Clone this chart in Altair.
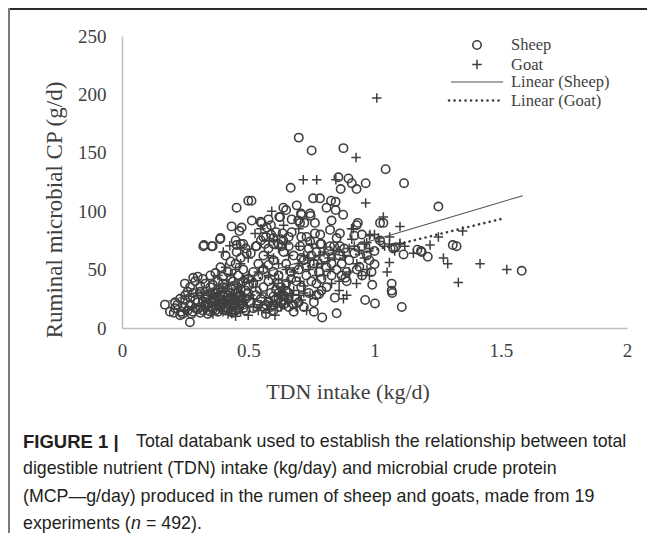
import altair as alt
import pandas as pd

# ---------------- data ----------------
sheep_pts = [
    (0.70, 163), (0.751, 152), (0.877, 154), (0.857, 129), (0.897, 128), (0.91, 124),
    (0.866, 119), (0.929, 119), (0.965, 124), (1.044, 136), (1.117, 124), (0.668, 120),
    (0.50, 109), (0.513, 109), (0.454, 103), (0.639, 103), (0.757, 111), (0.784, 111),
    (0.828, 109), (0.846, 108), (0.81, 103), (0.846, 101), (0.876, 97), (0.692, 105),
    (0.709, 98), (0.745, 98), (0.65, 101), (0.698, 92), (0.722, 90), (0.764, 90),
    (0.83, 92), (0.934, 90), (1.035, 90), (1.253, 104), (0.514, 92), (0.549, 91),
    (0.58, 93), (0.623, 95), (0.59, 88), (0.573, 86), (0.434, 87), (0.474, 86),
    (0.465, 83), (0.39, 77), (0.388, 76), (0.322, 70), (0.355, 70), (0.553, 90),
    (0.626, 95), (0.672, 93), (0.705, 90), (0.747, 96), (0.711, 97), (0.56, 78),
    (0.60, 77), (0.636, 81), (0.672, 82), (0.731, 78), (0.764, 81), (0.785, 80),
    (0.824, 84), (0.863, 81), (0.929, 88), (0.359, 70), (0.325, 71), (0.454, 71),
    (0.48, 72), (0.454, 65), (0.494, 64), (0.533, 70), (0.566, 72), (0.60, 72),
    (0.639, 75), (0.632, 70), (0.705, 70), (0.745, 74), (0.785, 72), (0.824, 70),
    (0.863, 70), (1.022, 75), (1.022, 90), (0.66, 78), (0.71, 78), (0.85, 77),
    (0.92, 79), (0.95, 80),
    (1.31, 71), (1.325, 70), (1.184, 66), (1.211, 61), (1.082, 69), (1.115, 63),
    (1.17, 67), (1.187, 65), (1.074, 68), (1.583, 49), (1.00, 54.5), (0.94, 52.5),
    (0.89, 48), (0.951, 45), (0.988, 48), (0.89, 40), (0.885, 43), (0.991, 37),
    (1.068, 38), (1.068, 32), (1.07, 30), (0.963, 24), (1.002, 21), (1.108, 18),
    (0.793, 9), (0.85, 12.6), (0.843, 26), (0.79, 32), (0.78, 29), (0.76, 22),
    (0.77, 28),
    (0.17, 20), (0.21, 17), (0.205, 13), (0.23, 11), (0.269, 5), (0.235, 14),
    (0.275, 12), (0.31, 13), (0.249, 38), (0.282, 43), (0.30, 44), (0.32, 42),
    (0.26, 31), (0.282, 30), (0.309, 31), (0.19, 14), (0.22, 20), (0.25, 24),
    (0.27, 20), (0.245, 18), (0.29, 17), (0.30, 22), (0.33, 18), (0.33, 26),
    (0.35, 30), (0.36, 22), (0.37, 15), (0.34, 12), (0.38, 20), (0.39, 28),
    (0.40, 35), (0.41, 18), (0.42, 24), (0.43, 30), (0.44, 22), (0.45, 15),
    (0.46, 27), (0.47, 33), (0.48, 20), (0.49, 25), (0.50, 30), (0.36, 37),
    (0.38, 40), (0.40, 44), (0.42, 48), (0.44, 40), (0.46, 45), (0.48, 50),
    (0.50, 42), (0.52, 48), (0.45, 55), (0.47, 60), (0.43, 57), (0.41, 62),
    (0.39, 52), (0.37, 47), (0.35, 45), (0.40, 27), (0.42, 16), (0.44, 13),
    (0.385, 24), (0.355, 18), (0.465, 19), (0.49, 15), (0.51, 22), (0.52, 17),
    (0.53, 28), (0.55, 25), (0.56, 35), (0.57, 20), (0.58, 40), (0.59, 30),
    (0.60, 15), (0.61, 25), (0.62, 45), (0.63, 35), (0.64, 20), (0.65, 55),
    (0.66, 30), (0.67, 42), (0.68, 62), (0.69, 25), (0.70, 50), (0.71, 35),
    (0.72, 58), (0.73, 45), (0.74, 68), (0.75, 40), (0.76, 55), (0.77, 65),
    (0.78, 48), (0.79, 72), (0.80, 60), (0.81, 52), (0.82, 66), (0.83, 45),
    (0.84, 70), (0.86, 62), (0.87, 55), (0.88, 68), (0.90, 58), (0.92, 64),
    (0.93, 50), (0.95, 70), (0.97, 62), (0.98, 58), (1.00, 66), (0.54, 55),
    (0.56, 62), (0.58, 68), (0.60, 58), (0.62, 72), (0.64, 65), (0.66, 70),
    (0.53, 70), (0.55, 75), (0.57, 78), (0.59, 80), (0.61, 82), (0.63, 76),
    (0.51, 64), (0.49, 68), (0.47, 72), (0.45, 75), (0.52, 38), (0.54, 44),
    (0.56, 50), (0.58, 54), (0.60, 48), (0.62, 38), (0.64, 28), (0.66, 18),
    (0.68, 14), (0.70, 22), (0.72, 18), (0.74, 30), (0.76, 14), (0.57, 12),
    (0.59, 18), (0.61, 33), (0.63, 22), (0.65, 38), (0.67, 48), (0.69, 40),
    (0.71, 60), (0.73, 52), (0.75, 62), (0.77, 38), (0.79, 42), (0.81, 35),
    (0.83, 55), (0.85, 50), (0.87, 45), (0.60, 27), (0.62, 30), (0.35, 35),
    (0.37, 30), (0.33, 38), (0.31, 36), (0.29, 40), (0.27, 35), (0.25, 28),
    (0.23, 25), (0.21, 22), (0.42, 33), (0.44, 36), (0.46, 38), (0.48, 40),
    (0.50, 36), (0.38, 33), (0.40, 38), (0.43, 42), (0.47, 28), (0.34, 27),
    (0.32, 23), (0.36, 26), (0.39, 22), (0.41, 30), (0.43, 26), (0.45, 30),
    (0.47, 24), (0.49, 32),
    (0.36, 16), (0.37, 19), (0.38, 14), (0.39, 18), (0.40, 21), (0.41, 15),
    (0.42, 20), (0.43, 14), (0.44, 18), (0.45, 24), (0.46, 16), (0.47, 21),
    (0.48, 17), (0.40, 24), (0.42, 28), (0.44, 26), (0.46, 30), (0.38, 26),
    (0.36, 30), (0.34, 22), (0.35, 14), (0.33, 20), (0.31, 18), (0.29, 24),
    (0.27, 26), (0.28, 14), (0.26, 15), (0.24, 12), (0.30, 16), (0.32, 15),
    (0.58, 22), (0.60, 20), (0.62, 25), (0.64, 24), (0.66, 26), (0.68, 20),
    (0.62, 18), (0.56, 18), (0.54, 20), (0.65, 32), (0.63, 28),
]

goat_pts = [
    (1.009, 197), (0.927, 146), (0.718, 127), (0.771, 127), (0.847, 127), (0.965, 107),
    (1.035, 95), (1.101, 87), (0.909, 85), (0.982, 80), (1.015, 77), (1.059, 72),
    (1.101, 72.5), (1.22, 71), (1.253, 78), (1.349, 83), (1.154, 64), (1.273, 60),
    (1.29, 55), (1.059, 56), (1.418, 55), (1.524, 50), (1.332, 39), (0.731, 15),
    (0.877, 25), (0.929, 38), (0.949, 45), (0.98, 45), (0.86, 40), (0.824, 50),
    (0.77, 45), (0.745, 28), (0.72, 30), (0.705, 40), (0.593, 100), (0.527, 81),
    (0.401, 65), (0.427, 70.5), (0.91, 76), (0.969, 73), (0.98, 79), (0.916, 85),
    (0.434, 12.5), (0.47, 14), (0.50, 11), (0.54, 15), (0.57, 13), (0.606, 11),
    (0.45, 10), (0.52, 18), (0.48, 20),
    (0.60, 60), (0.62, 55), (0.65, 50), (0.68, 48), (0.70, 55), (0.72, 62),
    (0.74, 60), (0.76, 58), (0.78, 62), (0.80, 65), (0.82, 60), (0.84, 63),
    (0.86, 66), (0.88, 62), (0.90, 68), (0.92, 70), (0.94, 66), (0.96, 72),
    (0.98, 68), (1.00, 80), (1.02, 74), (1.04, 70), (1.06, 78), (1.08, 66),
    (1.10, 72), (1.12, 70), (0.30, 30), (0.32, 28), (0.35, 25), (0.38, 30),
    (0.40, 34), (0.42, 38), (0.44, 28), (0.46, 35), (0.48, 42), (0.50, 45),
    (0.52, 40), (0.54, 48), (0.56, 52), (0.58, 45), (0.60, 38), (0.62, 42),
    (0.64, 35), (0.66, 40), (0.68, 32), (0.70, 28), (0.72, 36), (0.55, 30),
    (0.57, 26), (0.59, 22), (0.61, 20), (0.63, 18), (0.65, 24), (0.67, 28),
    (0.69, 18), (0.71, 24), (0.53, 35), (0.51, 28), (0.49, 24), (0.47, 30),
    (0.45, 20), (0.43, 18), (0.41, 22), (0.39, 16), (0.37, 20), (0.25, 15),
    (0.28, 18), (0.33, 15), (0.36, 12), (0.60, 75), (0.65, 72), (0.70, 70),
    (0.66, 62), (0.62, 68), (0.58, 62), (0.74, 50), (0.77, 52), (0.80, 45),
    (0.83, 38), (0.86, 32), (0.89, 28), (0.79, 55), (0.75, 72), (0.90, 48),
    (0.93, 55), (0.96, 60), (1.05, 48), (0.97, 50), (0.70, 85), (0.64, 88),
    (0.55, 85), (0.50, 60), (0.47, 55), (0.45, 50), (0.43, 46), (0.38, 45),
    (0.41, 52),
    (0.34, 18), (0.38, 24), (0.42, 12), (0.44, 24), (0.46, 22), (0.36, 28),
    (0.40, 14), (0.52, 25), (0.55, 20), (0.58, 16), (0.63, 30), (0.66, 22),
]

# Linear trend lines (Excel): y = slope * x + intercept
sheep_trend_x = [0.177, 1.587]
sheep_slope, sheep_intercept = 64.4, 11.1
goat_trend_x = [0.25, 1.513]
goat_slope, goat_intercept = 53.0, 13.8

x_ticks = [0, 0.5, 1, 1.5, 2]
y_ticks = [0, 50, 100, 150, 200, 250]

legend_labels = ["Sheep", "Goat", "Linear (Sheep)", "Linear (Goat)"]
x_title = "TDN intake (kg/d)"
y_title = "Ruminal microbial CP (g/d)"
caption_bold = "FIGURE 1 |"
caption_lines = [
    "Total databank used to establish the relationship between total",
    "digestible nutrient (TDN) intake (kg/day) and microbial crude protein",
    "(MCP\u2014g/day) produced in the rumen of sheep and goats, made from 19",
]
caption_last = ["experiments (", "n", "= 492)."]

# ---------------- styling ----------------
INK = "#3f3f3f"
SERIF = "Liberation Serif"
SANS = "Liberation Sans"
W, H = 505, 292
PAD_L, PAD_T, PAD_R, PAD_B = 114, 28, 20, 205
CAP_FS = 17.8

sheep_df = pd.DataFrame(sheep_pts, columns=["x", "y"])
goat_df = pd.DataFrame(goat_pts, columns=["x", "y"])
sheep_line_df = pd.DataFrame({"x": sheep_trend_x})
sheep_line_df["y"] = sheep_slope * sheep_line_df["x"] + sheep_intercept
goat_line_df = pd.DataFrame({"x": goat_trend_x})
goat_line_df["y"] = goat_slope * goat_line_df["x"] + goat_intercept

X = alt.X(
    "x:Q",
    scale=alt.Scale(domain=[0, 2], nice=False, zero=False),
    axis=alt.Axis(
        values=x_ticks, format="~g", grid=False, ticks=False, title=None,
        domainColor="#bfbfbf", domainWidth=1.5, labelFlush=False,
        labelFont=SERIF, labelFontSize=19, labelColor=INK, labelPadding=13,
    ),
)
Y = alt.Y(
    "y:Q",
    scale=alt.Scale(domain=[0, 250], nice=False),
    axis=alt.Axis(
        values=y_ticks, grid=False, ticks=False, title=None,
        domainColor="#bfbfbf", domainWidth=1.5,
        labelFont=SERIF, labelFontSize=19, labelColor=INK, labelPadding=16,
    ),
)

PLUS = "M-1,0L1,0M0,-1L0,1"

sheep = alt.Chart(sheep_df).mark_point(
    shape="circle", filled=False, size=70, strokeWidth=1.6, color=INK, opacity=1
).encode(x=X, y=Y)
goat = alt.Chart(goat_df).mark_point(
    shape=PLUS, filled=False, size=90, strokeWidth=1.5, color=INK, opacity=1
).encode(x="x:Q", y="y:Q")
sheep_line = alt.Chart(sheep_line_df).mark_line(color="#505050", strokeWidth=1.1).encode(
    x="x:Q", y="y:Q"
)
goat_line = alt.Chart(goat_line_df).mark_line(
    color=INK, strokeWidth=2.6, strokeDash=[0.1, 5.4], strokeCap="round"
).encode(x="x:Q", y="y:Q")

one = pd.DataFrame({"k": [0]})


def text_layer(label, x, y, **kw):
    return alt.Chart(pd.DataFrame({"label": [label]})).mark_text(**kw).encode(
        x=alt.value(x), y=alt.value(y), text="label:N"
    )


# legend
leg_y = [9, 28.5, 46, 64.5]
leg_sym = alt.Chart(one).mark_point(
    shape="circle", filled=False, size=70, strokeWidth=1.6, color=INK, opacity=1
).encode(x=alt.value(355), y=alt.value(leg_y[0]))
leg_plus = alt.Chart(one).mark_point(
    shape=PLUS, filled=False, size=90, strokeWidth=1.5, color=INK, opacity=1
).encode(x=alt.value(355), y=alt.value(leg_y[1]))
leg_l1 = alt.Chart(one).mark_rule(color="#505050", strokeWidth=1.1).encode(
    x=alt.value(329), x2=alt.value(381), y=alt.value(leg_y[2])
)
leg_l2 = alt.Chart(one).mark_rule(
    color=INK, strokeWidth=2.6, strokeDash=[0.1, 5.4], strokeCap="round"
).encode(x=alt.value(327), x2=alt.value(381), y=alt.value(leg_y[3]))
leg_text = [
    text_layer(lab, 389, yy, align="left", baseline="middle", font=SERIF,
               fontSize=16.5, color=INK)
    for lab, yy in zip(legend_labels, leg_y)
]

# axis titles
xt = text_layer(x_title, 226, 356, align="center", baseline="middle", font=SERIF,
                fontSize=22, color=INK)
yt = text_layer(y_title, -67, 174, align="center", baseline="middle", font=SERIF,
                fontSize=23, color=INK, angle=270)

# caption
cap_y = [405.5, 433, 460.5, 487.5]
CAPC = "#231f20"
cap = [text_layer(caption_bold, -99, cap_y[0], align="left", baseline="middle",
                  font=SANS, fontSize=18.5, fontWeight="bold", color=CAPC)]
cap.append(text_layer(caption_lines[0], 14, cap_y[0], align="left", baseline="middle",
                      font=SANS, fontSize=CAP_FS, color=CAPC))
for line, yy in zip(caption_lines[1:], cap_y[1:3]):
    cap.append(text_layer(line, -99, yy, align="left", baseline="middle",
                          font=SANS, fontSize=CAP_FS, color=CAPC))
cap.append(text_layer(caption_last[0], -99, cap_y[3], align="left", baseline="middle",
                      font=SANS, fontSize=CAP_FS, color=CAPC))
cap.append(text_layer(caption_last[1], 9, cap_y[3], align="left", baseline="middle",
                      font=SANS, fontSize=CAP_FS, fontStyle="italic", color=CAPC))
cap.append(text_layer(caption_last[2], 24, cap_y[3], align="left", baseline="middle",
                      font=SANS, fontSize=CAP_FS, color=CAPC))

# frame lines of the figure panel
frame_top = alt.Chart(one).mark_rule(color="#2a2a2a", strokeWidth=2).encode(
    x=alt.value(-114), x2=alt.value(W + PAD_R), y=alt.value(-27)
)
frame_left = alt.Chart(one).mark_rule(color="#7a7a7a", strokeWidth=2).encode(
    x=alt.value(-113), y=alt.value(-28), y2=alt.value(H + PAD_B)
)

chart = alt.layer(
    sheep, goat, sheep_line, goat_line,
    leg_sym, leg_plus, leg_l1, leg_l2, *leg_text,
    xt, yt, *cap, frame_top, frame_left,
).properties(
    width=W, height=H,
    padding={"left": PAD_L, "top": PAD_T, "right": PAD_R, "bottom": PAD_B},
    autosize=alt.AutoSizeParams(type="none"),
).configure_view(strokeWidth=0)

chart.save("out.html", embed_options={"renderer": "svg", "actions": False})
